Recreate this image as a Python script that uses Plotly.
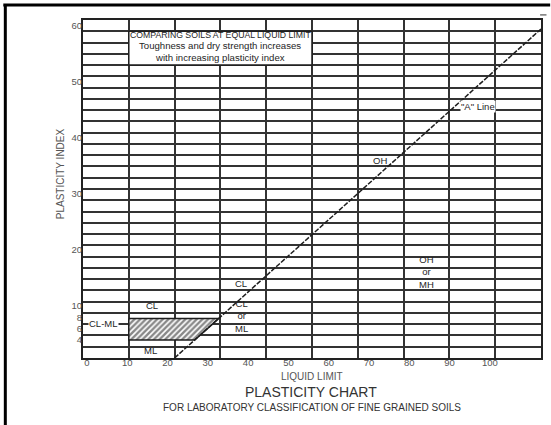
import plotly.graph_objects as go

# ---- data ----
liquid_limit_ticks = [0, 10, 20, 30, 40, 50, 60, 70, 80, 90, 100]
plasticity_ticks = [0, 4, 6, 8, 10, 20, 30, 40, 50, 60]

a_line_ll = [20, 100]
a_line_pi = [0, 58.4]

clml_ll = [10, 29.6, 24.4, 10, 10]
clml_pi = [7, 7, 3.2, 3.2, 7]

zone_texts = ["OH", "\"A\" Line", "OH<br>or<br>MH", "CL", "CL<br>or<br>ML", "CL", "ML", "CL-ML"]
zone_ll = [64.8, 86.3, 75.0, 34.4, 34.6, 15.0, 14.8, 4.4]
zone_pi = [35.1, 44.6, 15.3, 13.3, 7.5, 9.4, 1.3, 6.2]

box_ll = [10, 50]
box_pi = [52, 58]
box_lines = ["COMPARING SOILS AT EQUAL LIQUID LIMIT",
             "Toughness and dry strength increases",
             "with increasing plasticity index"]
box_line_pi = [57.3, 55.4, 53.3]
box_line_size = [8.7, 9.6, 9.6]

FONT = "Liberation Sans, Arial, sans-serif"
INK = "#1e1e1e"
GREY = "#555555"

fig = go.Figure()

fig.add_trace(go.Scatter(
    x=clml_ll, y=clml_pi, mode="lines", fill="toself",
    fillcolor="white",
    fillpattern=dict(shape="/", fgcolor="#111111", bgcolor="white", size=4, solidity=0.6),
    line=dict(color=INK, width=1.5), hoverinfo="skip", showlegend=False))

fig.add_trace(go.Scatter(
    x=a_line_ll, y=a_line_pi, mode="lines",
    line=dict(color=INK, width=1.5, dash="5px,1.5px"),
    hoverinfo="skip", showlegend=False))

# invisible trace for the label axes
fig.add_trace(go.Scatter(x=[0], y=[0], xaxis="x2", yaxis="y2", mode="markers",
                         marker=dict(opacity=0), hoverinfo="skip", showlegend=False))

annotations = []
for t, xx, yy in zip(zone_texts, zone_ll, zone_pi):
    annotations.append(dict(
        x=xx, y=yy, xref="x", yref="y", text=t, showarrow=False,
        xanchor="center", yanchor="middle",
        font=dict(family=FONT, size=9.5, color=INK),
        bgcolor="white" if t in ("CL-ML", "\"A\" Line") else None,
        borderpad=0))

for t, yy, s in zip(box_lines, box_line_pi, box_line_size):
    annotations.append(dict(
        x=(box_ll[0] + box_ll[1]) / 2, y=yy, xref="x", yref="y",
        xanchor="center", yanchor="middle",
        text=t, showarrow=False, font=dict(family=FONT, size=s, color=INK)))

annotations += [
    dict(x=0.5, y=-0.056, xref="paper", yref="paper", text="LIQUID LIMIT", showarrow=False,
         xanchor="center", yanchor="middle",
         font=dict(family=FONT, size=10, color=GREY)),
    dict(x=0.498, y=-0.101, xref="paper", yref="paper", text="PLASTICITY CHART", showarrow=False,
         xanchor="center", yanchor="middle",
         font=dict(family=FONT, size=14, color="#333333")),
    dict(x=0.5, y=-0.145, xref="paper", yref="paper",
         text="FOR LABORATORY CLASSIFICATION OF FINE GRAINED SOILS", showarrow=False,
         xanchor="center", yanchor="middle",
         font=dict(family=FONT, size=10, color="#333333")),
    dict(x=-0.05, y=0.544, xref="paper", yref="paper", text="PLASTICITY INDEX", showarrow=False,
         xanchor="center", yanchor="middle",
         textangle=-90, font=dict(family=FONT, size=10, color=GREY)),
]

shapes = [
    dict(type="rect", xref="x", yref="y", x0=box_ll[0], x1=box_ll[1], y0=box_pi[0], y1=box_pi[1],
         fillcolor="white", line=dict(color=INK, width=1.5), layer="above"),
    # outer frame (top and left)
    dict(type="line", xref="paper", yref="paper", x0=-0.174, x1=1.02, y0=1.0444, y1=1.0444,
         line=dict(color="black", width=3)),
    dict(type="line", xref="paper", yref="paper", x0=-0.1696, x1=-0.1696, y0=1.0444, y1=-0.2,
         line=dict(color="black", width=3)),
    dict(type="line", xref="paper", yref="paper", x0=0.998, x1=1.012, y0=1.015, y1=1.015,
         line=dict(color="#333333", width=1)),
]

axis_common = dict(showgrid=True, gridcolor="#333333", gridwidth=1.5, showticklabels=False,
                   showline=True, linecolor="#222222", linewidth=2, mirror=True,
                   zeroline=False, ticks="")

fig.update_layout(
    width=551, height=425,
    margin=dict(l=83, r=8, t=20, b=67),
    paper_bgcolor="white", plot_bgcolor="white",
    showlegend=False,
    hovermode=False,
    xaxis=dict(range=[0, 100], tick0=0, dtick=10, **axis_common),
    yaxis=dict(range=[0, 60], tick0=0, dtick=2, **axis_common),
    xaxis2=dict(overlaying="x", anchor="y", side="bottom", range=[-0.99, 112.7],
                tickvals=liquid_limit_ticks, ticktext=[str(v) for v in liquid_limit_ticks],
                showgrid=False, zeroline=False, showline=False, ticks="",
                ticklabelstandoff=-3,
                tickfont=dict(family=FONT, size=9.5, color=GREY)),
    yaxis2=dict(overlaying="y", anchor="x", side="left", range=[0.71, 61.07],
                tickvals=plasticity_ticks, ticktext=[str(v) for v in plasticity_ticks],
                showgrid=False, zeroline=False, showline=False, ticks="",
                tickfont=dict(family=FONT, size=9.5, color=GREY)),
    annotations=annotations,
    shapes=shapes,
)

fig.write_html("out.html", config={"displayModeBar": False},
               post_script="document.body.style.margin='0px';")
